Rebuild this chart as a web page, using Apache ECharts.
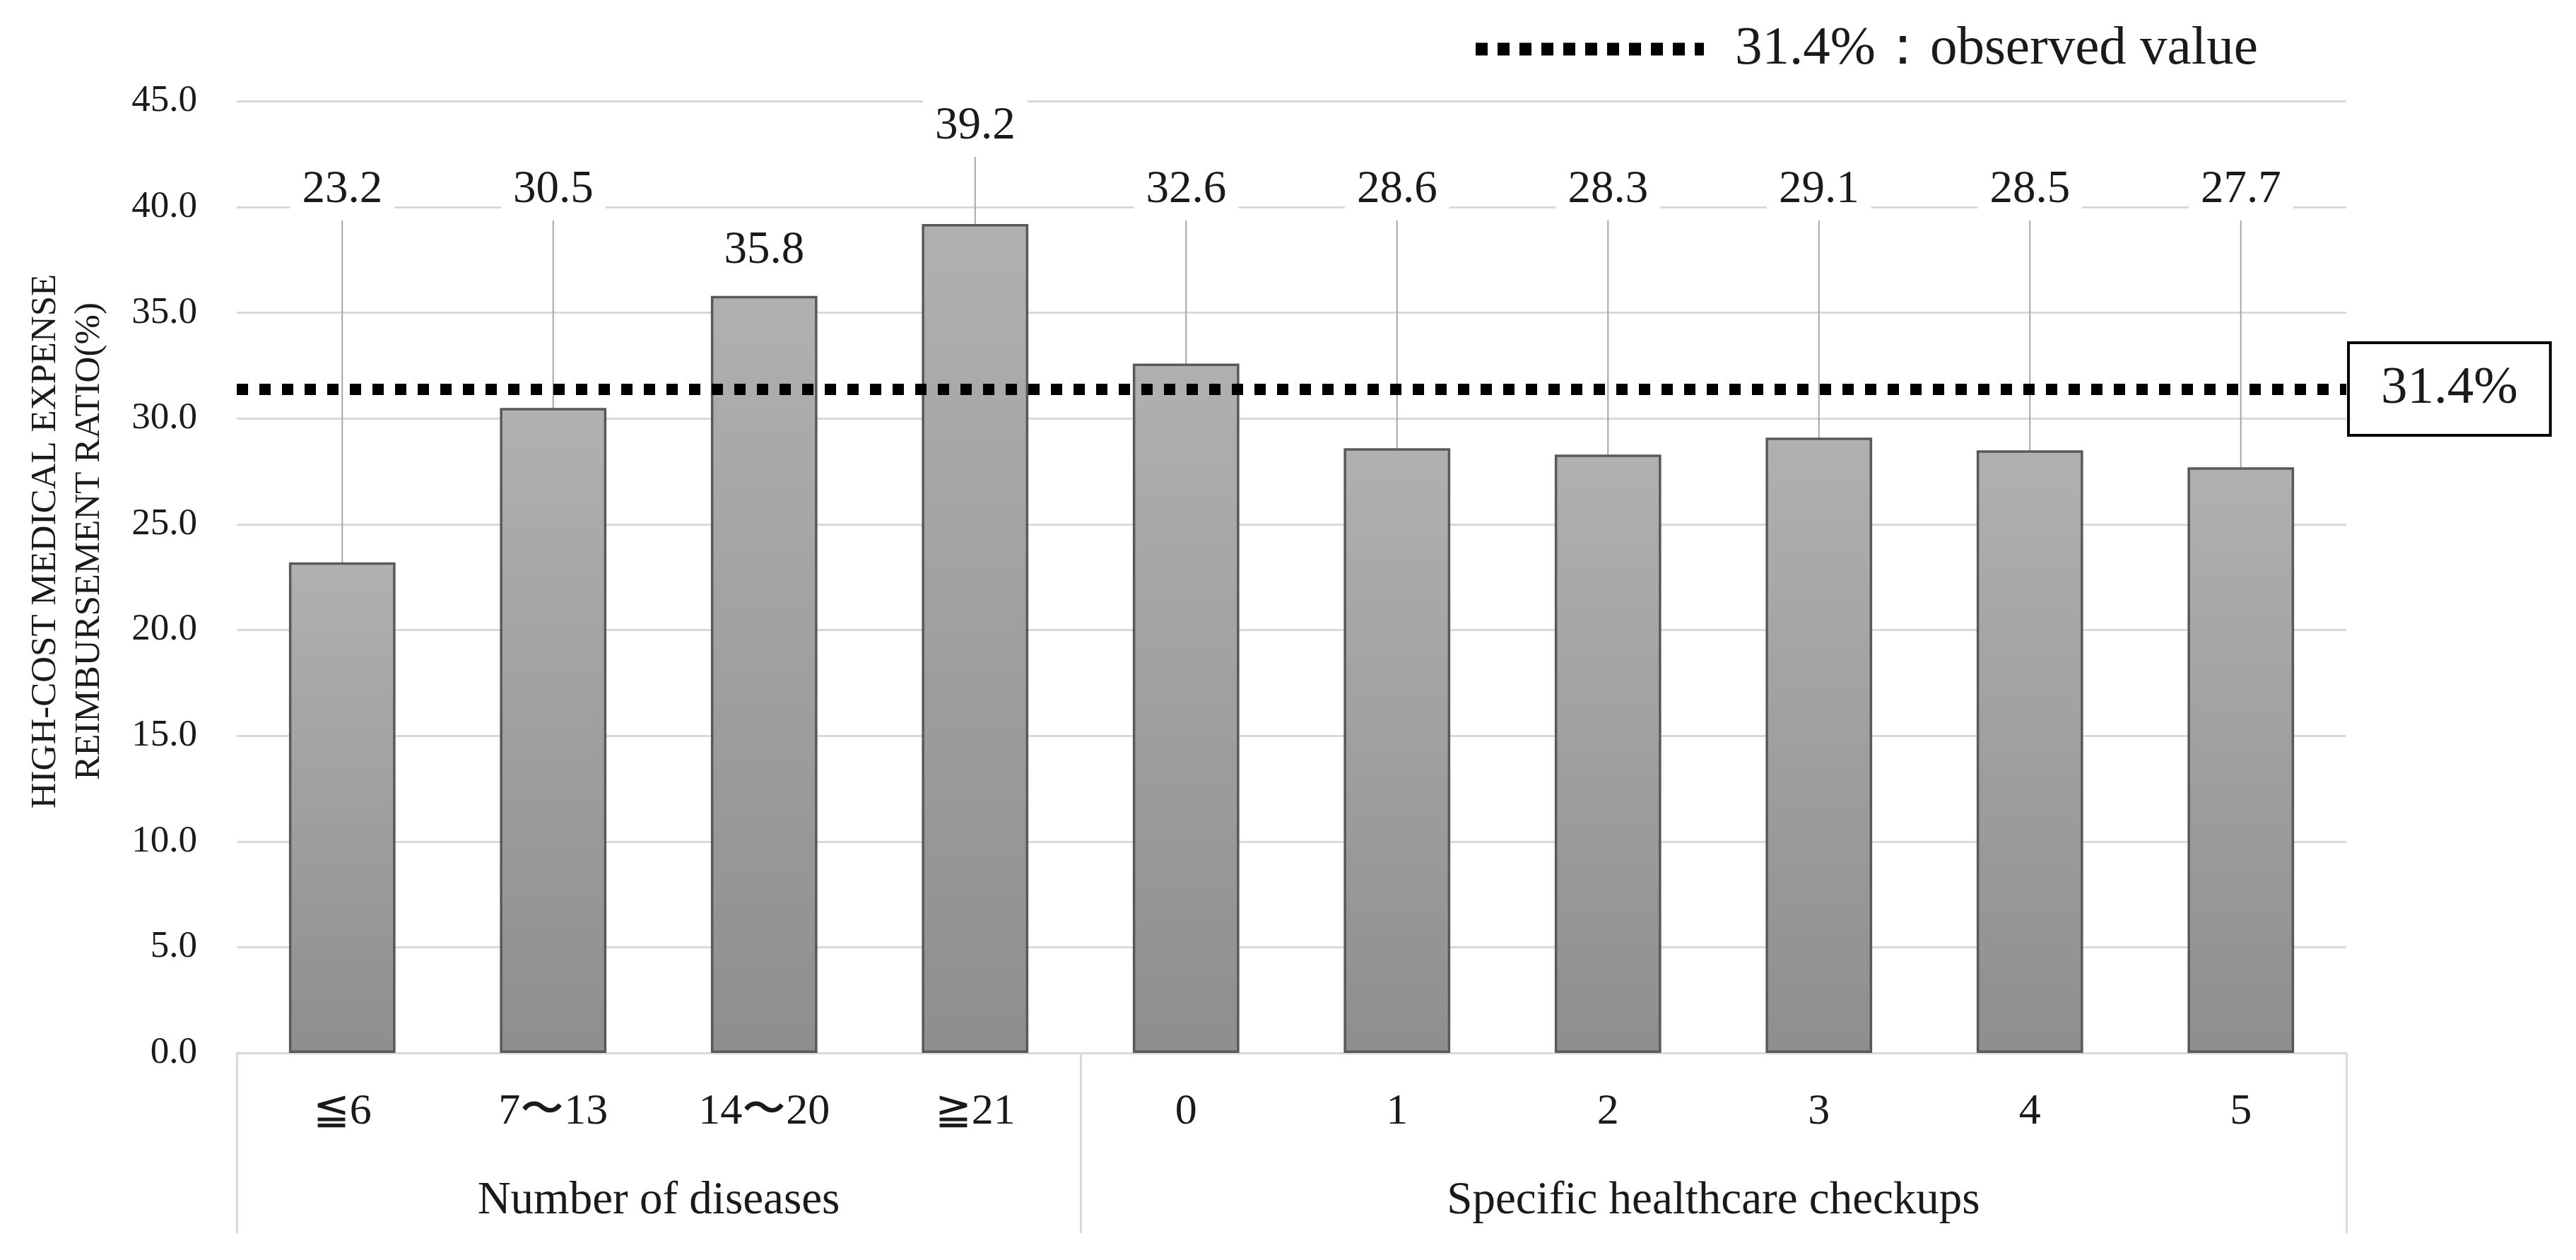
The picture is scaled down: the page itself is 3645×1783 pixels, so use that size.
<!DOCTYPE html>
<html>
<head>
<meta charset="utf-8">
<script src="https://cdn.jsdelivr.net/npm/echarts@6/dist/echarts.min.js"></script>
<style>
html,body{margin:0;padding:0;background:#fff;}
#chart{width:3645px;height:1783px;}
</style>
</head>
<body>
<div id="chart"></div>
<script>
// ---- data ----
const categories = ['≦6', '7〜13', '14〜20', '≧21', '0', '1', '2', '3', '4', '5'];
const values = [23.2, 30.5, 35.8, 39.2, 32.6, 28.6, 28.3, 29.1, 28.5, 27.7];
const groupNames = ['Number of diseases', 'Specific healthcare checkups'];
const groupSizes = [4, 6];
const observedValue = 31.4;
const observedName = '31.4%：observed value';
const yAxisTitle = 'HIGH-COST MEDICAL EXPENSE\nREIMBURSEMENT RATIO(%)';
const yMin = 0, yMax = 45, yStep = 5;

// ---- derived helpers ----
const FONT = '"Liberation Serif", "DejaVu Serif", serif';
const TXT = '#1a1a1a';
const groupBounds = [0];
groupSizes.forEach(s => groupBounds.push(groupBounds[groupBounds.length - 1] + s));
const groupCenters = groupSizes.map((s, i) => groupBounds[i] + s / 2);
const total = groupBounds[groupBounds.length - 1];

// label placement rule (Excel-like: low bars share a common label row)
function labelLevel(v) {
  if (v >= 38) return v + 4.6;
  if (v >= 35) return v + 2.15;
  return 40.8;
}
function hasLeader(v) { return !(v >= 35 && v < 38); }

const barData = values.map(v => ({ value: v, labelLine: { show: hasLeader(v) } }));

const chart = echarts.init(document.getElementById('chart'), null, { renderer: 'canvas' });

const option = {
  backgroundColor: '#fff',
  animation: false,
  grid: { left: 335, right: 325, top: 143.5, bottom: 293, containLabel: false, outerBoundsMode: 'none' },
  legend: {
    data: [observedName],
    left: 2079, top: 31, padding: 0,
    itemWidth: 323, itemHeight: 18,
    selectedMode: false,
    textStyle: { fontSize: 77, fontFamily: FONT, color: TXT, padding: [0, 0, 0, 39] },
    itemStyle: { opacity: 0, borderWidth: 0 },
    lineStyle: { width: 18, type: [17, 14], color: '#000', cap: 'butt' }
  },
  xAxis: [
    {
      type: 'category', data: categories, position: 'bottom',
      axisLine: { show: true, onZero: false, lineStyle: { color: '#d9d9d9', width: 3 } },
      axisTick: { show: false },
      splitLine: { show: false },
      axisLabel: { interval: 0, fontSize: 62, margin: 53, color: TXT, fontFamily: FONT }
    },
    {
      type: 'value', min: 0, max: total, position: 'bottom',
      axisLine: { show: false, onZero: false },
      splitLine: { show: false },
      axisTick: { show: true, customValues: groupBounds, length: 255, lineStyle: { color: '#d9d9d9', width: 3 } },
      axisLabel: {
        customValues: groupCenters, fontSize: 65, margin: 177, color: TXT, fontFamily: FONT,
        formatter: v => { const i = groupCenters.indexOf(v); return i >= 0 ? groupNames[i] : ''; }
      }
    }
  ],
  yAxis: {
    type: 'value', min: yMin, max: yMax, interval: yStep,
    axisLine: { show: false }, axisTick: { show: false },
    axisLabel: { formatter: v => v.toFixed(1), fontSize: 53, margin: 56, color: TXT, fontFamily: FONT },
    splitLine: { show: true, lineStyle: { color: '#d9d9d9', width: 3 } }
  },
  graphic: [{
    type: 'text', x: 96, y: 766, rotation: Math.PI / 2,
    style: {
      text: yAxisTitle, fontSize: 51, fontFamily: FONT, fill: TXT,
      align: 'center', verticalAlign: 'middle', lineHeight: 62
    }
  }],
  series: [
    {
      type: 'bar', name: 'ratio', data: barData, xAxisIndex: 0, yAxisIndex: 0,
      barWidth: '50.5%',
      itemStyle: {
        color: new echarts.graphic.LinearGradient(0, 0, 0, 1, [
          { offset: 0, color: '#b0b0b0' },
          { offset: 1, color: '#8e8e8e' }
        ]),
        borderColor: '#595959', borderWidth: 3.5
      },
      label: {
        show: true, position: 'top', fontSize: 65, fontFamily: FONT, color: TXT,
        backgroundColor: '#fff', padding: [10, 17],
        formatter: p => p.value.toFixed(1)
      },
      labelLine: { show: true, lineStyle: { color: '#a6a6a6', width: 2 } },
      labelLayout: function (p) {
        const v = values[p.dataIndex];
        const r = p.rect;
        const top = Math.min(r.y, r.y + r.height);
        const h = Math.abs(r.height);
        const unit = h / v;
        const base = top + h;
        return { x: r.x + r.width / 2, y: base - labelLevel(v) * unit, align: 'center', verticalAlign: 'middle' };
      },
      emphasis: { disabled: true },
      markLine: {
        silent: true, symbol: 'none', animation: false,
        data: [{ yAxis: observedValue }],
        lineStyle: { color: '#000', width: 16, type: [16, 16], cap: 'butt' },
        label: {
          show: true, position: 'end', distance: 5,
          formatter: p => p.value.toFixed(1) + '%',
          fontSize: 75, fontFamily: FONT, color: TXT,
          backgroundColor: '#fff', borderColor: '#000', borderWidth: 4,
          padding: [26, 44]
        },
        emphasis: { disabled: true }
      },
      z: 2
    },
    {
      type: 'line', name: observedName, data: [], symbol: 'none',
      itemStyle: { color: '#000', opacity: 0 },
      lineStyle: { color: '#000', width: 18, type: [17, 14] }
    }
  ]
};
chart.setOption(option);
</script>
</body>
</html>
